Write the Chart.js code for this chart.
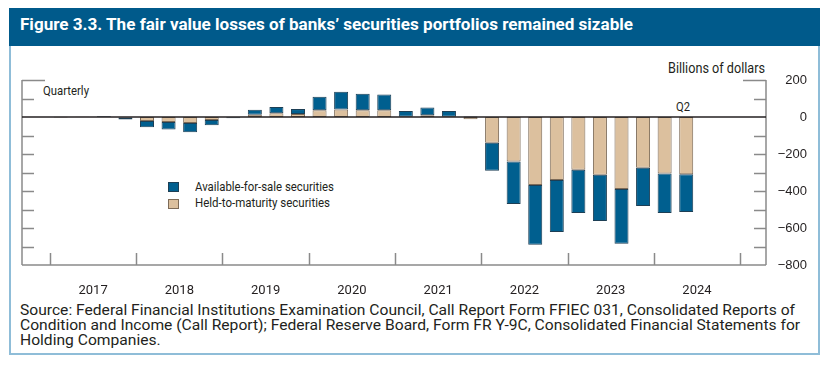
<!DOCTYPE html>
<html><head><meta charset="utf-8">
<script src="https://cdn.jsdelivr.net/npm/chart.js@4.4.1/dist/chart.umd.min.js"></script>
<style>
html,body{margin:0;padding:0;background:#fff;}
body{width:832px;height:372px;position:relative;overflow:hidden;font-family:Roboto,"Liberation Sans",sans-serif;color:#231f20;}
#frame{position:absolute;left:9px;top:8px;width:811px;height:347px;border:2px solid #8fbdd8;border-top:none;box-sizing:border-box;}
#titlebar{position:absolute;left:9px;top:8px;width:811px;height:38px;background:#005a8b;}
#title{position:absolute;left:20px;top:14px;color:#fff;font-weight:bold;font-size:17px;white-space:nowrap;line-height:20px;}
.t{position:absolute;white-space:nowrap;line-height:14px;font-size:13px;}
#unit{left:668px;top:61px;font-size:14px;}
#freq{left:43px;top:84px;}
#q2{left:676px;top:100px;}
.sw{position:absolute;width:11px;height:10px;box-sizing:border-box;border:1px solid;}
#sw1{left:168px;top:182px;background:#005f8f;border-color:#1d3f55;}
#sw2{left:168px;top:199px;background:#dcc09e;border-color:#7d6b58;}
#lg1{left:195px;top:180px;}
#lg2{left:195px;top:196px;}
#source{position:absolute;left:20px;top:303px;font-size:15px;line-height:15px;white-space:nowrap;}
canvas{position:absolute;left:0;top:0;}
</style></head>
<body>
<div id="frame"></div>
<div id="titlebar"></div>
<div id="title" data-w="613">Figure 3.3. The fair value losses of banks’ securities portfolios remained sizable</div>
<div class="t" id="unit" data-w="97">Billions of dollars</div>
<div class="t" id="freq" data-w="46">Quarterly</div>
<div class="t" id="q2" data-w="14">Q2</div>
<div class="sw" id="sw1"></div><div class="t" id="lg1" data-w="139">Available-for-sale securities</div>
<div class="sw" id="sw2"></div><div class="t" id="lg2" data-w="135">Held-to-maturity securities</div>
<div id="source"><span id="src1">Source: Federal Financial Institutions Examination Council, Call Report Form FFIEC 031, Consolidated Reports of</span><br>Condition and Income (Call Report); Federal Reserve Board, Form FR Y-9C, Consolidated Financial Statements for<br>Holding Companies.</div>
<canvas id="c" width="832" height="372"></canvas>
<script>
const quarters = [
 "2017Q1","2017Q2","2017Q3","2017Q4",
 "2018Q1","2018Q2","2018Q3","2018Q4",
 "2019Q1","2019Q2","2019Q3","2019Q4",
 "2020Q1","2020Q2","2020Q3","2020Q4",
 "2021Q1","2021Q2","2021Q3","2021Q4",
 "2022Q1","2022Q2","2022Q3","2022Q4",
 "2023Q1","2023Q2","2023Q3","2023Q4",
 "2024Q1","2024Q2"];
const availableForSale = [
 1, 1, 5, -10,
 -33, -40, -50, -29,
 -6, 27, 34, 27,
 74, 97, 90, 86,
 30, 43, 31, 3,
 -151, -229, -323, -281,
 -234, -250, -296, -207,
 -213, -204];
const heldToMaturity = [
 -3, 1, 1, -3,
 -22, -27, -32, -16,
 -1, 12, 20, 16,
 36, 40, 36, 36,
 2, 9, 1, -12,
 -139, -241, -368, -341,
 -285, -312, -389, -274,
 -306, -310];
const yearLabels = ["2017","2018","2019","2020","2021","2022","2023","2024"];
const yTickValues = [200,100,0,-100,-200,-300,-400,-500,-600,-700,-800];

// fit HTML text widths to the reference
document.querySelectorAll('[data-w]').forEach(el => {
  const w = el.getBoundingClientRect().width;
  el.style.transformOrigin = 'left center';
  el.style.transform = 'scaleX(' + (parseFloat(el.dataset.w) / w) + ')';
});
(function(){
  const src = document.getElementById('source');
  const w = document.getElementById('src1').getBoundingClientRect().width;
  src.style.transformOrigin = 'left top';
  src.style.transform = 'scaleX(' + (775 / w) + ')';
})();

const qx = q => parseInt(q.slice(0,4)) + (parseInt(q.slice(5)) - 0.5) / 4;
const xMin = 2016.676, xMax = 2025.30;
const yMin = -800, yMax = 200;

const decor = {
  id: 'decor',
  afterDatasetsDraw(chart) {
    const {ctx, chartArea: {left, right, top, bottom}, scales: {x, y}} = chart;
    const ln = (a,b,c,d) => { ctx.beginPath(); ctx.moveTo(a,b); ctx.lineTo(c,d); ctx.stroke(); };
    ctx.save();
    ctx.strokeStyle = '#8a8a8a'; ctx.lineWidth = 1.5;
    ln(left, top, left, bottom);
    ln(right, top, right, bottom);
    ln(left, bottom, right, bottom);
    yTickValues.forEach(v => {
      if (v === 0 || v === yMin) return;
      const py = Math.round(y.getPixelForValue(v)) + 0.5;
      const len = v === yMax ? 23 : 12;
      ln(left, py, left + len, py);
      ln(right, py, right - len, py);
    });
    yearLabels.concat(["2025"]).forEach(s => {
      const px = Math.round(x.getPixelForValue(parseInt(s))) + 0.5;
      ln(px, bottom, px, bottom - 12);
    });
    ctx.strokeStyle = '#231f20'; ctx.lineWidth = 1.5;
    const y0 = y.getPixelForValue(0);
    ln(left, y0, right, y0);
    ctx.restore();
  }
};

new Chart(document.getElementById('c'), {
  type: 'bar',
  data: {
    datasets: [
      { label: 'Held-to-maturity securities', data: quarters.map((q,i)=>({x: qx(q), y: heldToMaturity[i]})),
        backgroundColor: '#dcc09e', borderColor: '#7d6b58', borderWidth: 1, borderSkipped: false },
      { label: 'Available-for-sale securities', data: quarters.map((q,i)=>({x: qx(q), y: availableForSale[i]})),
        backgroundColor: '#005f8f', borderColor: '#1d3f55', borderWidth: 1, borderSkipped: false }
    ]
  },
  options: {
    responsive: false, animation: false,
    layout: { padding: { left: 22, right: 25, top: 80, bottom: 77 } },
    datasets: { bar: { categoryPercentage: 1, barPercentage: 0.65 } },
    plugins: { legend: { display: false }, tooltip: { enabled: false } },
    scales: {
      x: { type: 'linear', min: xMin, max: xMax, stacked: true, display: false, offset: false, grid: { offset: false } },
      xl: { type: 'linear', position: 'bottom', min: xMin, max: xMax, offset: false,
        afterBuildTicks: s => { s.ticks = yearLabels.map(l => ({ value: parseInt(l) + 0.5 })); },
        afterFit: s => { s.height = 30; },
        ticks: { autoSkip: false, maxRotation: 0, padding: 10, color: '#231f20',
          font: { family: 'Roboto,sans-serif', size: 13 },
          callback: (v) => String(Math.floor(v)) },
        grid: { display: false, offset: false }, border: { display: false } },
      y: { type: 'linear', position: 'right', min: yMin, max: yMax, stacked: true,
        afterBuildTicks: s => { s.ticks = yTickValues.map(v => ({ value: v })); },
        afterFit: s => { s.width = 41; },
        ticks: { crossAlign: 'far', padding: 12, color: '#231f20',
          font: { family: '"Liberation Sans",Arial,sans-serif', size: 13 },
          callback: v => v < 0 ? '\u2212' + Math.abs(v) : String(v) },
        grid: { display: false }, border: { display: false } }
    }
  },
  plugins: [decor]
});
</script>
</body></html>
